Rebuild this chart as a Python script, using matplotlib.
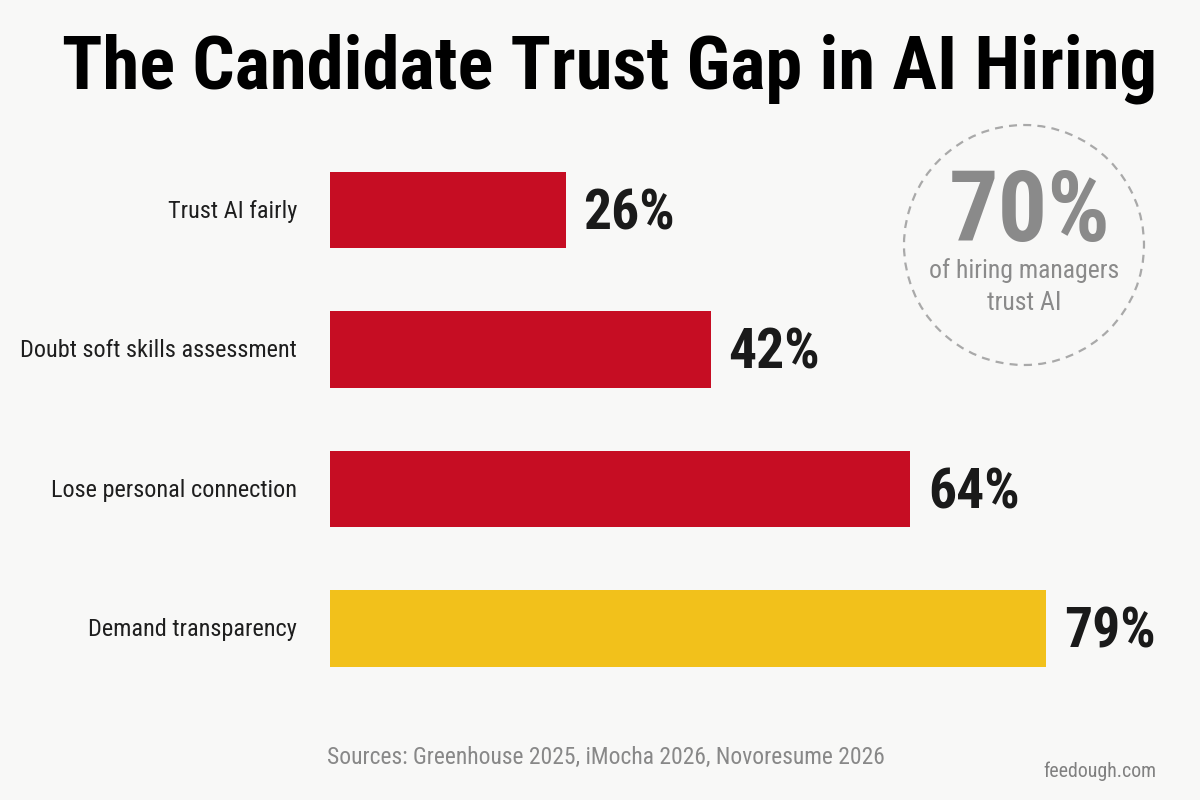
import matplotlib
matplotlib.use("Agg")
import matplotlib.pyplot as plt
from matplotlib.patches import Circle
from matplotlib import font_manager

# ---- data ----
categories = ["Trust AI fairly", "Doubt soft skills assessment",
              "Lose personal connection", "Demand transparency"]
values = [26, 42, 64, 79]
bar_colors = ["#C60D23", "#C60D23", "#C60D23", "#F2C11B"]
value_labels = [f"{v}%" for v in values]
title = "The Candidate Trust Gap in AI Hiring"
callout_value = "70%"
callout_line1 = "of hiring managers"
callout_line2 = "trust AI"
source_text = "Sources: Greenhouse 2025, iMocha 2026, Novoresume 2026"
credit_text = "feedough.com"

available = {f.name for f in font_manager.fontManager.ttflist}
candidates = ["Liberation Sans Narrow", "Roboto Condensed", "Roboto", "Liberation Sans"]
FONT = next((c for c in candidates if c in available), "DejaVu Sans")
FAM = [FONT, "DejaVu Sans"]
BG = "#F8F8F7"

fig = plt.figure(figsize=(12, 8), dpi=100, facecolor=BG)
renderer = fig.canvas.get_renderer()


def fit(txt, target_px):
    w = txt.get_window_extent(renderer).width
    txt.set_fontsize(txt.get_fontsize() * target_px / w)


ax = fig.add_axes([0.275, 0.125, 0.725, 0.70])
ax.set_facecolor("none")
ypos = list(range(len(categories)))
ax.barh(ypos, values, height=0.55, color=bar_colors, edgecolor="none")
ax.set_xlim(0, 870 / 9.06)
ax.set_ylim(3.513, -0.502)
for s in ax.spines.values():
    s.set_visible(False)
ax.set_xticks([])
ax.set_yticks([])

# category labels (right aligned at x=297 px)
cat_texts = []
for y, c in zip(ypos, categories):
    t = ax.annotate(c, xy=(0, y), xytext=(-33 / 1.3889, -1), textcoords="offset points",
                    ha="right", va="center", family=FAM, fontsize=16,
                    color="#1E1E1E")
    cat_texts.append(t)
fig.canvas.draw()
w = cat_texts[1].get_window_extent(renderer).width
for t in cat_texts:
    t.set_fontsize(16 * 278 / w)

val_texts = []
for y, v, lab in zip(ypos, values, value_labels):
    t = ax.annotate(lab, xy=(v, y), xytext=(13, -3), textcoords="offset points",
                    ha="left", va="center", family=FAM, fontweight="black",
                    fontsize=34, color="#1A1A1A")
    val_texts.append(t)
fig.canvas.draw()
w = val_texts[0].get_window_extent(renderer).width
for t in val_texts:
    t.set_fontsize(34 * 92 / w)

# title
tt = fig.text(0.508, 1 - 88 / 800, title, ha="center", va="baseline",
              family=FAM, fontweight="black", fontsize=45, color="#000000")
fit(tt, 1096)

# callout circle
circ = Circle((10.24, 5.55), 1.2, transform=fig.dpi_scale_trans,
              fill=False, edgecolor="#A9A9A9", linewidth=1.6,
              linestyle=(0, (3.6, 2.8)))
fig.patches.append(circ)
t70 = fig.text(1030 / 1200, 1 - 241 / 800, callout_value, ha="center", va="baseline",
               family=FAM, fontweight="black", fontsize=60, color="#8A8A8A")
fit(t70, 162)
t1 = fig.text(1024 / 1200, 1 - 278 / 800, callout_line1, ha="center", va="baseline",
              family=FAM, fontsize=16, color="#8A8A8A")
fit(t1, 192)
t2 = fig.text(1024 / 1200, 1 - 310 / 800, callout_line2, ha="center", va="baseline",
              family=FAM, fontsize=t1.get_fontsize(), color="#8A8A8A")

# footer
ts = fig.text(327 / 1200, 1 - 757 / 800, source_text, ha="left", va="center",
              family=FAM, fontsize=16, color="#888888")
fit(ts, 560)
tc = fig.text(1156 / 1200, 1 - 771 / 800, credit_text, ha="right", va="center",
              family=FAM, fontsize=12, color="#808080")
fit(tc, 113)

fig.savefig("out.png", dpi=100, facecolor=BG)
